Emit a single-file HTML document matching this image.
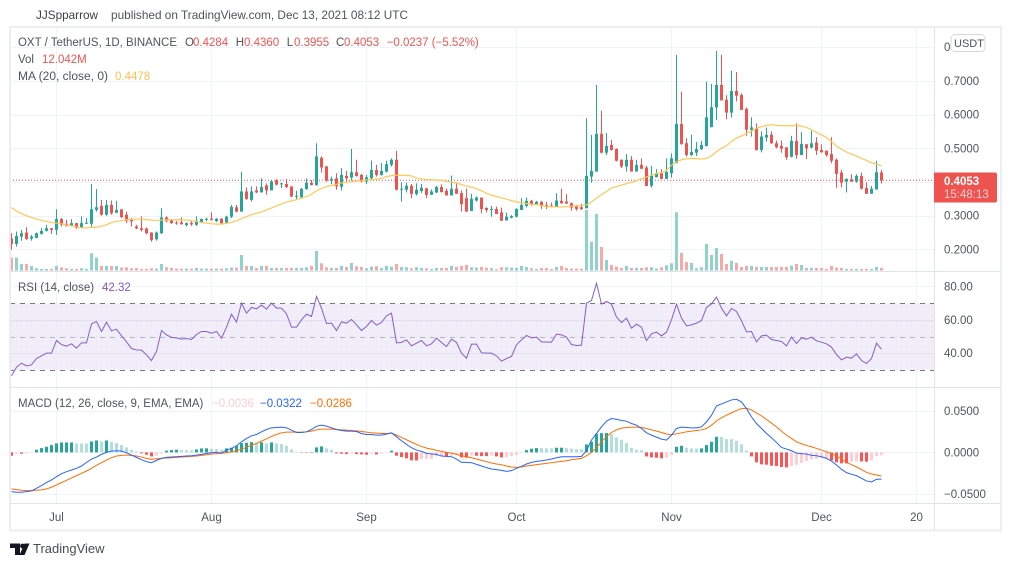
<!DOCTYPE html>
<html lang="en">
<head>
<meta charset="utf-8">
<title>OXT / TetherUS chart</title>
<style>
html,body{margin:0;padding:0;background:#fff;width:1012px;height:566px;overflow:hidden}
svg{display:block}
text{font-family:"Liberation Sans",sans-serif;font-size:11.5px;fill:#50535e}
</style>
</head>
<body>
<svg id="chart" xmlns="http://www.w3.org/2000/svg" width="1012" height="566" viewBox="0 0 1012 566">
  <defs>
    <pattern id="dots" width="5" height="5" patternUnits="userSpaceOnUse"><rect x="1" y="1" width="1" height="1" fill="#e6e0f3"/></pattern>
    <clipPath id="plotclip"><rect x="10" y="28" width="924" height="476"/></clipPath>
  </defs>
  <text x="36" y="19" style="fill:#3c3f48;font-size:12px" textLength="62" lengthAdjust="spacingAndGlyphs">JJSpparrow</text>
  <text x="111" y="19" style="font-size:12px" textLength="297" lengthAdjust="spacingAndGlyphs">published on TradingView.com, Dec 13, 2021 08:12 UTC</text>

  <g id="grid"></g>
  <g id="rsiBand">
    <rect x="10" y="303.3" width="924" height="66.7" fill="#f1edf9"/>
    <rect x="10" y="303.3" width="924" height="66.7" fill="url(#dots)"/>
  </g>
  <g id="grid2"></g>
  <g id="plots" clip-path="url(#plotclip)"></g>

  <g fill="none">
    <rect x="10" y="27" width="991" height="503.5" stroke="#eceef4" stroke-width="2"/>
    <line x1="934.5" y1="27" x2="934.5" y2="530" stroke="#e0e3eb"/>
    <line x1="10" y1="271.5" x2="1001" y2="271.5" stroke="#e0e3eb"/>
    <line x1="10" y1="387.5" x2="1001" y2="387.5" stroke="#e0e3eb"/>
    <line x1="10" y1="503.5" x2="1001" y2="503.5" stroke="#e0e3eb"/>
  </g>

  <g id="axes"></g>

  <g>
    <text x="18" y="46" textLength="159" lengthAdjust="spacingAndGlyphs">OXT / TetherUS, 1D, BINANCE</text>
    <text x="185" y="46">O</text>
    <text x="193" y="46" style="fill:#ef5350">0.4284</text>
    <text x="235.700" y="46">H</text>
    <text x="244" y="46" style="fill:#ef5350">0.4360</text>
    <text x="286.700" y="46">L</text>
    <text x="294" y="46" style="fill:#ef5350">0.3955</text>
    <text x="336" y="46">C</text>
    <text x="344" y="46" style="fill:#ef5350">0.4053</text>
    <text x="386.700" y="46" style="fill:#ef5350">−0.0237 (−5.52%)</text>
    <text x="18" y="63">Vol</text>
    <text x="42" y="63" style="fill:#ef5350">12.042M</text>
    <text x="18" y="80" textLength="90" lengthAdjust="spacingAndGlyphs">MA (20, close, 0)</text>
    <text x="115" y="80" style="fill:#ffc04d">0.4478</text>
  </g>
  <g>
    <text x="18" y="291">RSI (14, close)</text>
    <text x="102" y="291" style="fill:#7e57c2">42.32</text>
  </g>
  <g>
    <text x="18" y="407">MACD (12, 26, close, 9, EMA, EMA)</text>
    <text x="212" y="407" style="fill:#ffcdd2">−0.0036</text>
    <text x="260" y="407" style="fill:#2962ff">−0.0322</text>
    <text x="310" y="407" style="fill:#ff6d00">−0.0286</text>
  </g>

  <g>
    <path d="M934 172.500H995a2 2 0 0 1 2 2V200.500a2 2 0 0 1-2 2H934Z" fill="#ef5350"/>
    <text x="944" y="185" style="fill:#fff;font-weight:bold">0.4053</text>
    <text x="944" y="198" style="fill:#fbd0cf">15:48:13</text>
  </g>
  <g>
    <rect x="951" y="34.500" width="34" height="17" rx="4" fill="#fff" stroke="#d6d8e0"/>
    <text x="954" y="47" style="font-size:11px">USDT</text>
  </g>

  <g>
    <path d="M10 543.500H20V555H15V548H10Z" fill="#131722"/>
    <circle cx="22.500" cy="546" r="2.400" fill="#131722"/>
    <path d="M24.500 543.500H29.500L24.500 555H19.500Z" fill="#131722"/>
    <text x="33" y="553" style="font-size:13px;fill:#4a4c55">TradingView</text>
  </g>
</svg>

<script>
const opens = [.233,.216,.238,.250,.232,.234,.246,.255,.263,.258,
.290,.276,.270,.278,.266,.277,.276,.317,.329,.303,
.332,.309,.319,.303,.287,.268,.263,.262,.250,.230,
.248,.295,.286,.280,.280,.272,.278,.273,.280,.288,
.291,.284,.291,.280,.297,.325,.312,.372,.347,.375,
.369,.390,.375,.405,.394,.394,.387,.357,.355,.379,
.398,.390,.472,.446,.404,.411,.386,.418,.413,.429,
.421,.401,.411,.436,.421,.431,.451,.466,.377,.377,
.389,.364,.373,.381,.362,.369,.385,.374,.360,.380,
.367,.352,.314,.345,.354,.323,.318,.320,.310,.286,
.294,.297,.317,.329,.344,.334,.341,.331,.330,.327,
.344,.342,.337,.327,.325,.322,.416,.431,.543,.487,
.510,.498,.466,.446,.466,.431,.451,.443,.389,.414,
.426,.409,.426,.456,.572,.515,.480,.487,.497,.507,
.563,.621,.688,.644,.606,.670,.658,.617,.555,.560,
.495,.532,.540,.515,.507,.503,.475,.522,.480,.512,
.502,.517,.495,.493,.483,.466,.428,.401,.408,.401,
.418,.382,.365,.378,.4284];
const closes = [.216,.240,.248,.231,.238,.248,.255,.263,.258,.290,
.273,.270,.278,.264,.278,.279,.319,.325,.303,.332,
.307,.317,.296,.285,.283,.262,.258,.248,.228,.250,
.295,.285,.278,.277,.275,.278,.274,.285,.290,.291,
.287,.291,.278,.297,.326,.312,.372,.350,.372,.369,
.385,.375,.402,.392,.396,.385,.357,.359,.380,.398,
.391,.476,.443,.404,.409,.387,.421,.411,.429,.418,
.401,.414,.436,.421,.433,.453,.466,.377,.380,.389,
.365,.377,.383,.362,.372,.385,.370,.360,.380,.365,
.334,.312,.350,.354,.320,.317,.320,.305,.285,.297,
.299,.320,.332,.344,.334,.341,.329,.327,.327,.345,
.337,.336,.324,.320,.320,.418,.433,.543,.487,.507,
.495,.463,.446,.466,.431,.451,.439,.388,.419,.426,
.409,.430,.470,.572,.513,.480,.489,.498,.510,.592,
.622,.688,.642,.606,.670,.656,.614,.555,.562,.495,
.535,.540,.515,.503,.499,.473,.522,.480,.513,.500,
.515,.493,.488,.480,.463,.424,.398,.409,.401,.418,
.380,.365,.380,.429,.4053];
const highs = [.248,.253,.258,.266,.243,.250,.263,.273,.263,.319,
.293,.288,.290,.278,.298,.293,.394,.379,.347,.347,
.345,.344,.319,.312,.293,.273,.298,.265,.251,.253,
.322,.298,.288,.284,.295,.280,.283,.298,.292,.294,
.310,.293,.293,.300,.332,.332,.430,.384,.387,.387,
.411,.396,.406,.408,.398,.409,.387,.374,.382,.411,
.406,.515,.476,.448,.416,.426,.441,.433,.498,.466,
.424,.421,.463,.451,.456,.463,.470,.492,.399,.398,
.394,.396,.394,.383,.378,.388,.393,.381,.419,.396,
.375,.380,.365,.357,.354,.325,.329,.327,.324,.309,
.302,.322,.352,.354,.347,.344,.344,.341,.339,.367,
.380,.364,.339,.332,.335,.589,.540,.688,.611,.545,
.525,.500,.467,.483,.477,.466,.470,.448,.448,.438,
.438,.470,.485,.777,.668,.530,.540,.519,.522,.698,
.691,.789,.777,.658,.730,.726,.663,.621,.592,.574,
.550,.562,.550,.523,.523,.503,.537,.574,.548,.513,
.552,.533,.512,.493,.533,.470,.436,.411,.423,.423,
.428,.399,.388,.463,.436];
const lows = [.199,.208,.226,.228,.226,.234,.244,.253,.246,.243,
.268,.268,.268,.261,.263,.276,.265,.312,.300,.300,
.303,.307,.293,.278,.268,.260,.253,.245,.223,.226,
.246,.280,.276,.273,.273,.268,.270,.270,.278,.284,
.286,.281,.276,.278,.293,.310,.312,.347,.342,.367,
.369,.362,.375,.390,.382,.382,.355,.347,.350,.377,
.390,.390,.428,.401,.394,.377,.375,.401,.404,.416,
.399,.394,.406,.416,.419,.428,.446,.375,.342,.369,
.352,.360,.367,.352,.362,.367,.369,.360,.360,.365,
.312,.312,.314,.342,.307,.310,.297,.305,.285,.285,
.292,.295,.317,.325,.330,.332,.320,.320,.325,.325,
.335,.335,.315,.315,.317,.322,.398,.431,.485,.480,
.493,.461,.441,.431,.431,.431,.441,.388,.383,.414,
.409,.409,.413,.456,.510,.475,.477,.477,.495,.505,
.562,.584,.642,.586,.591,.639,.614,.537,.535,.493,
.488,.520,.513,.500,.487,.466,.473,.469,.480,.468,
.500,.480,.487,.475,.456,.383,.384,.369,.401,.398,
.378,.365,.365,.377,.3955];
const maValues = [.324,.314,.306,.300,.295,.290,.286,.283,.280,.278,
.276,.273,.270,.267,.264,.264,.265,.266,.269,.273,
.280,.283,.286,.288,.289,.290,.290,.288,.287,.286,
.287,.288,.288,.288,.288,.287,.285,.283,.280,.278,
.276,.275,.275,.277,.280,.285,.291,.297,.303,.307,
.311,.317,.323,.329,.335,.340,.344,.348,.352,.357,
.364,.374,.381,.386,.390,.393,.397,.399,.401,.403,
.404,.406,.407,.409,.411,.416,.419,.420,.420,.420,
.418,.412,.409,.407,.407,.406,.405,.402,.400,.397,
.392,.388,.385,.380,.374,.366,.361,.357,.353,.349,
.345,.341,.338,.336,.334,.333,.330,.327,.327,.326,
.326,.327,.328,.329,.330,.332,.341,.352,.363,.372,
.382,.386,.391,.395,.399,.404,.410,.415,.420,.425,
.428,.434,.450,.460,.466,.469,.470,.469,.468,.470,
.478,.490,.500,.508,.520,.530,.537,.544,.551,.559,
.564,.568,.570,.568,.567,.567,.567,.568,.566,.562,
.555,.547,.540,.532,.520,.507,.497,.489,.483,.477,
.470,.464,.457,.453,.4478];
const volumeValues = [58.5,58.5,30,30,21,10.5,7.5,7.5,7.5,21,
15,10.5,7.5,7.5,10.5,7.5,78,58.5,21,21,
21,21,13.5,15,10.5,12,7.5,7.5,10.5,9,
30,15,12,9,9,9,9,12,9,9,
9,9,9,10.5,13.5,13.5,70.5,21,21,12,
21,21,12,12,12,12,12,12,12,15,
21,88.5,33,15,12,12,21,16.5,34.5,19.5,
16.5,10.5,18,19.5,12,21,18,30,16.5,15,
10.5,15,12,10.5,7.5,12,12,12,21,16.5,
21,25.5,15,13.5,16.5,13.5,10.5,6,15,15,
13.5,12,21,16.5,10.5,7.5,12,12,7.5,16.5,
21,12,9,9,9,273,130.5,255,106.5,48,
25.5,18,12,21,12,12,12,15,15,9,
15,24,33,262.5,79.5,39,34.5,10.5,15,120,
70.5,102,75,30,43.5,34.5,16.5,21,21,16.5,
16.5,16.5,16.5,16.5,16.5,16.5,22.5,30,25.5,12,
12,12,12,7.5,21,13.5,12,7.5,7.5,7.5,
7.5,7.5,7.5,16.5,12.042];
const rsiValues = [26.4,31.6,34,32.4,33,36.8,38.4,40,40,47.6,
45.2,44.2,45.6,43,46.2,46.2,57.6,59,53,58.6,
53.4,54.4,50.4,46.8,42.8,42,41.8,39,35.6,41,
53.6,51,49.4,49.2,48.4,48.8,48.2,51.2,53,53,
52,53,49,55.6,63.4,58.6,70,64,67.4,66.6,
68.8,66.4,70,67,67,63.6,55.6,55.6,60,63.4,
62,74,67,57.8,58,53.6,58.8,58,60.2,57,
53.6,56,59.6,56.8,58.4,62.4,64,46.2,46.4,48,
44.4,46,47.6,44.4,45.6,49,46.4,44,48.4,46.4,
40,37,45.4,45.4,40.2,40,40,38.4,35.2,36.8,
38,45,48,50.6,49.2,49.6,46.8,46.6,46.6,51.4,
51,49.6,45.2,44.6,44.8,70,71.6,82,69.4,71,
69.4,61.6,58.4,61,55,57.4,55.6,47.6,51.6,52.6,
50.4,52.6,60,69.4,61,56.4,57,58,59.6,67.4,
69.6,73.6,67,62.4,66.8,65,59.4,52.8,53,46.8,
50.4,50.8,48.2,47.6,47,44.4,49.6,45.8,49.2,48.4,
49.6,47.4,46.6,45.6,43.6,39.2,36,37.6,37,39.6,
35.6,33.8,36.8,46,42.32];
/* MACD series are in thousandths of a USDT */
const macdLine = [-47.2,-48,-48,-47.2,-46.4,-43.2,-40,-36.4,-33.2,-29.2,
-25.6,-23.2,-21.2,-19.2,-16.4,-12,-8,-5.6,-2.4,0,
1.6,2,1.6,-.4,-3.2,-6,-8.8,-11.2,-12.4,-9.6,
-7.2,-6,-5.6,-5.2,-4.8,-4.4,-4,-3.2,-2.4,-1.2,
-.4,0,-.8,2.8,4.8,8,12.8,16.8,20,21.6,
24.8,27.6,29.6,30,30.4,29.6,26.8,24,24,24.8,
27.6,31.6,32.8,31.6,29.6,27.6,26.4,25.6,25.6,25.2,
22.8,21.6,21.6,20.8,20.8,22,23.6,18.8,14,9.6,
5.6,2.8,1.2,-1.2,-2,-2.4,-4.4,-4.8,-5.2,-8,
-12,-12,-12.4,-14.4,-16.4,-18.4,-20,-20.8,-21.6,-22.8,
-22,-19.2,-16.8,-14,-12,-10.8,-10,-9.2,-8,-6.4,
-5.2,-5.2,-5.2,-5.2,-4.8,2,14.8,22.8,30.8,37.6,
40.8,40,38.4,37.6,34.8,32.8,28.8,23.6,20.8,18.4,
16,14.8,20.8,28.8,30.4,30,29.6,29.6,30.8,36.8,
44.8,56,58.4,60.8,63.2,64,60.8,52.8,42.8,34.8,
28.8,22.8,17.6,12,6,4,2,-.8,-1.6,-2,
-3.6,-4,-5.2,-7.2,-10.4,-15.2,-20.4,-24.4,-26.4,-28,
-31.2,-34.4,-35.6,-32.4,-32.2];
const signalLine = [-44,-44.8,-45.6,-46,-46,-45.6,-45.2,-44,-42,-39.2,
-36.4,-33.6,-30.8,-28,-25.2,-22.4,-19.2,-15.6,-12.4,-9.2,
-6.4,-4.4,-3.6,-3.2,-3.6,-4.4,-5.6,-7.2,-8.4,-7.6,
-7.2,-6.8,-6.4,-6,-5.6,-5.2,-4.8,-4.4,-3.6,-2.8,
-2,-1.6,-1.2,-.4,.8,2,4,6,8.8,10.8,
13.6,16.4,19.2,21.6,23.6,24.4,24.4,24.4,24.4,24.8,
25.6,27.2,28,28,28,27.6,27.2,26.8,26.4,26,
25.2,24.4,23.6,23.2,22.8,22.8,23.2,20.8,18,15.2,
12.4,9.6,7.2,5.2,4,2.4,1.2,0,-.8,-2.4,
-4,-5.2,-6.4,-8,-9.6,-11.2,-12.8,-14,-14.8,-16.4,
-17.6,-18,-17.6,-16.4,-15.6,-14.8,-14,-13.2,-12.4,-11.6,
-10.8,-10,-8.8,-8,-7.2,-4,0,5.6,12.8,18.8,
24,27.2,29.2,30,30.4,30.4,30,28.8,27.2,25.6,
24,22,21.2,22.4,23.6,24.8,25.6,26.4,27.2,28.8,
32.8,38,41.6,44.8,47.6,50.4,52.8,53.2,51.2,47.6,
44,39.6,35.2,30.8,25.6,20.8,16.8,12.8,10.4,8.4,
6.8,4.8,2.8,.8,-1.6,-4.4,-8,-12,-14.8,-17.6,
-20.8,-24,-26,-27.2,-28.6];
const macdHistogram = [-4,-1.6,-1.6,-1.2,-.4,3.2,5.2,6.8,8.8,10.8,
12,12,12,10.8,10.7,10.6,13.2,14.4,13.2,14.4,
12.8,11.2,8.8,6,3.2,1.2,-1.2,-2.8,-4.8,-4,
-1.2,2,2.8,3.2,2.8,2.7,2.6,3.6,4.8,4.9,
4.4,4,3.2,4.8,5.6,8,11.2,11.6,12.4,12,
12.2,10.8,12,10.8,10,8,3.6,.8,-.4,-.5,
-.6,6,7.2,4.8,3.2,-1.2,-1.6,-2,-1.2,-2,
-2.4,-2.8,-1.6,-2.4,-1.2,-.4,2,-4,-5.6,-7.2,
-9.6,-9.7,-8,-7.9,-7.8,-4.8,-4,-5.2,-4,-3.2,
-6,-6.4,-3.6,-4,-4.4,-4.5,-4,-4.8,-6,-5.6,
-4.4,-3.2,-.8,2.8,4.4,5.2,5.1,5,4.9,5.6,
5.7,5.2,4.4,4,3.9,9.6,12.8,22.4,23.2,23.3,
22,18,15.2,11.2,5.6,3.2,2.8,-4.8,-6,-6.4,
-7.2,-6.4,-3.2,6.8,8,5.6,4.8,4.7,4.8,8.8,
12.8,18.8,18.7,16,15.9,14,9.6,2.4,-4.8,-12,
-14.4,-14.8,-16,-16.4,-17.6,-18,-16.4,-14.8,-12.8,-10.4,
-8.4,-8,-6.8,-6.7,-9.6,-12,-13.2,-13.3,-11.2,-10.8,
-10.9,-11.2,-9.6,-4.4,-3.6];
const lastClose = 0.4053;
const priceTicks = [0.2,0.3,0.5,0.6,0.7];
const priceGridTicks = [0.2,0.3,0.4,0.5,0.6,0.7,0.8];
const rsiTicks = [40,60,80];
const macdTicks = [-50,0,50];
const macdTickLabels = ['−0.0500','0.0000','0.0500'];
const timeLabels = ['Jul','Aug','Sep','Oct','Nov','Dec','20'];
const timeBars = [9,40,71,101,132,162,181];

const x = i => 11.5 + 5 * i;
const yPrice = p => 249.4 - (p - 0.2) * 337;
const yVol = v => 270.6 - v / 4.5;
const yRsi = r => 336.5 - (r - 50) * 1.667;
const yMacd = m => 452.4 - m * 0.83;

const NS = 'http://www.w3.org/2000/svg';
function make(parent, tag, attrs, txt) {
  const el = document.createElementNS(NS, tag);
  for (const k in attrs) el.setAttribute(k, attrs[k]);
  if (txt !== undefined) el.textContent = txt;
  parent.appendChild(el);
  return el;
}
const grid = document.getElementById('grid');
const grid2 = document.getElementById('grid2');
const plots = document.getElementById('plots');
const axes = document.getElementById('axes');
const GRID = '#f0f3fa';

timeBars.forEach((b, k) => {
  const px = x(b);
  const g = make(grid, 'line', {x1: px, x2: px, y1: 28, y2: 504, stroke: GRID});
  
  
  const t = make(axes, 'text', {x: px, y: 521, 'text-anchor': 'middle'}, timeLabels[k]);
  
  
});
priceGridTicks.forEach(p => {
  const py = Math.round(yPrice(p)) + .5;
  const g = make(grid, 'line', {x1: 10, x2: 934, y1: py, y2: py, stroke: GRID});
  
  
});
priceTicks.forEach(p => {
  const t = make(axes, 'text', {x: 944, y: yPrice(p) + 4}, p.toFixed(4));
  
  
});
const clippedTick = make(axes, 'text', {x: 944, y: yPrice(0.8) + 4}, '0');



rsiTicks.forEach(r => {
  const py = Math.round(yRsi(r)) + .5;
  const g = make(grid2, 'line', {x1: 10, x2: 934, y1: py, y2: py, stroke: r === 80 ? GRID : '#e4e1ef'});
  
  
  const t = make(axes, 'text', {x: 944, y: yRsi(r) + 4}, r.toFixed(2));
  
  
});
[[70, '#787b86'], [50, '#b9b6c4'], [30, '#787b86']].forEach(d => {
  const py = Math.round(yRsi(d[0])) + .5;
  const g = make(grid2, 'line', {x1: 10, x2: 934, y1: py, y2: py, stroke: d[1], 'stroke-dasharray': '5 5'});
  
  
});
macdTicks.forEach((m, k) => {
  const py = Math.round(yMacd(m)) + .5;
  const g = make(grid, 'line', {x1: 10, x2: 934, y1: py, y2: py, stroke: GRID});
  
  
  const t = make(axes, 'text', {x: 944, y: yMacd(m) + 4}, macdTickLabels[k]);
  
  
});

/* volume */
volumeValues.forEach((v, i) => {
  const top = yVol(v);
  const up = closes[i] >= opens[i];
  const r = make(plots, 'rect', {x: x(i) - 1.5, y: top, width: 3, height: yVol(0) - top, fill: up ? '#92d2cc' : '#f7a9a7'});
  
  
});

/* last price line */
const lastLine = make(plots, 'line', {x1: 10, x2: 934, y1: yPrice(lastClose), y2: yPrice(lastClose), stroke: '#ef5350', 'stroke-dasharray': '1 2'});



/* candles */
opens.forEach((o, i) => {
  const c = closes[i];
  const col = c >= o ? '#26a69a' : '#ef5350';
  const wick = make(plots, 'rect', {x: x(i) - .5, y: yPrice(highs[i]), width: 1, height: yPrice(lows[i]) - yPrice(highs[i]), fill: col});
  
  
  const top = yPrice(Math.max(o, c));
  const body = make(plots, 'rect', {x: x(i) - 1.5, y: top, width: 3, height: Math.max(1, yPrice(Math.min(o, c)) - top), fill: col});
  
  
});

function linePath(values, yFn) {
  return values.map((v, i) => (i ? 'L' : 'M') + x(i) + ' ' + yFn(v).toFixed(2)).join('');
}
const maLine = make(plots, 'path', {d: linePath(maValues, yPrice), fill: 'none', stroke: '#ffc857', 'stroke-width': 1.2});


const rsiLine = make(plots, 'path', {d: linePath(rsiValues, yRsi), fill: 'none', stroke: '#8460c8', 'stroke-width': 1});



/* macd histogram */
macdHistogram.forEach((h, i) => {
  const prev = i ? macdHistogram[i - 1] : h;
  let col;
  if (h >= 0) col = h >= prev ? '#26a69a' : '#b2dfdb';
  else col = h <= prev ? '#ff5252' : '#ffcdd2';
  const y0 = yMacd(0), y1 = yMacd(h);
  const r = make(plots, 'rect', {x: x(i) - 1.5, y: Math.min(y0, y1), width: 3, height: Math.abs(y1 - y0), fill: col});
  
  
});
const sigPath = make(plots, 'path', {d: linePath(signalLine, yMacd), fill: 'none', stroke: '#ff6d00', 'stroke-width': 1});


const macdPath = make(plots, 'path', {d: linePath(macdLine, yMacd), fill: 'none', stroke: '#2962ff', 'stroke-width': 1});


</script>
</body>
</html>
